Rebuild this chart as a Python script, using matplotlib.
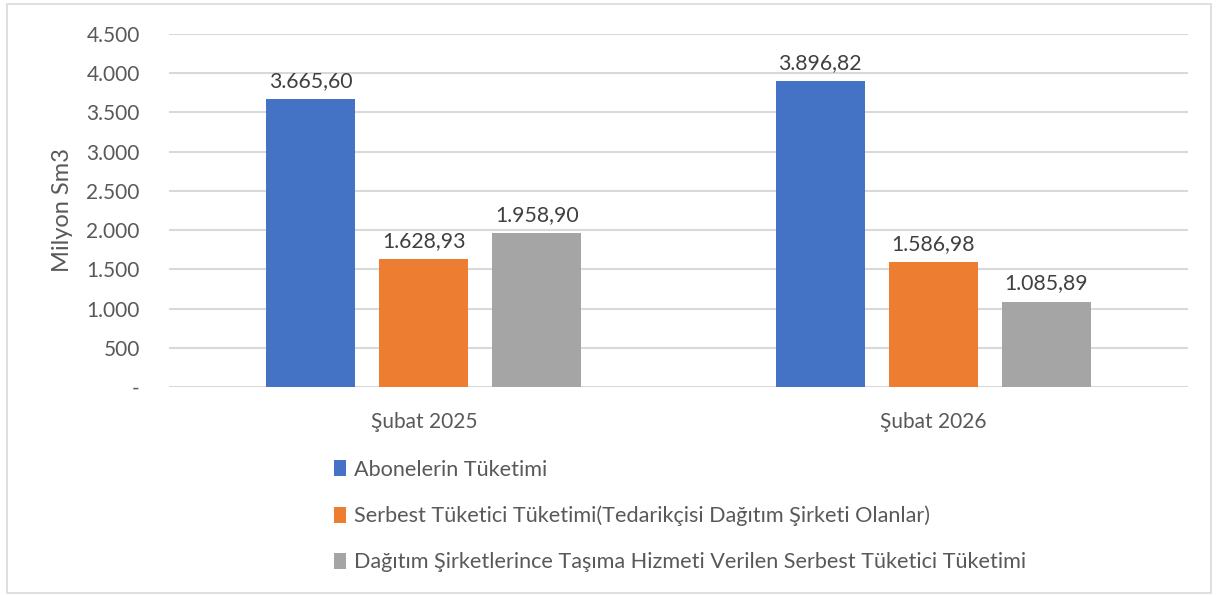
import numpy as np
import matplotlib.pyplot as plt
from matplotlib.patches import Rectangle
from matplotlib.ticker import FuncFormatter

plt.rcParams['font.family'] = ['Lato', 'DejaVu Sans']

categories = ['Şubat 2025', 'Şubat 2026']
series_names = [
    'Abonelerin Tüketimi',
    'Serbest Tüketici Tüketimi(Tedarikçisi Dağıtım Şirketi Olanlar)',
    'Dağıtım Şirketlerince Taşıma Hizmeti Verilen Serbest Tüketici Tüketimi',
]
abone = [3665.60, 3896.82]
serbest_tedarik = [1628.93, 1586.98]
serbest_tasima = [1958.90, 1085.89]
colors = ['#4472c4', '#ed7d31', '#a5a5a5']

text_color = '#595959'
grid_color = '#d9d9d9'


def tr_number(v, decimals=2):
    s = f"{v:,.{decimals}f}"
    return s.replace(',', 'X').replace('.', ',').replace('X', '.')


fig = plt.figure(figsize=(12.17, 5.95), dpi=100)
ax = fig.add_axes([0.1389, 0.3496, 0.8373, 0.5933])

# outer chart border
fig.patches.append(Rectangle((0.006, 0.003), 0.989, 0.99, transform=fig.transFigure,
                             fill=False, edgecolor=grid_color, linewidth=1.2))

x = np.arange(len(categories))
width = 0.175
step = 0.222
all_series = [abone, serbest_tedarik, serbest_tasima]
for i, (vals, name, c) in enumerate(zip(all_series, series_names, colors)):
    bars = ax.bar(x + (i - 1) * step, vals, width, color=c, label=name, zorder=3)
    for b, v in zip(bars, vals):
        ax.annotate(tr_number(v), (b.get_x() + b.get_width() / 2, v),
                    xytext=(0, 6), textcoords='offset points',
                    ha='center', va='bottom', fontsize=15.3, color='#404040')

ax.set_xlim(-0.5, 1.5)
ax.set_ylim(0, 4500)
ax.set_yticks(np.arange(0, 4501, 500))
ax.yaxis.set_major_formatter(FuncFormatter(lambda v, p: '-' if v == 0 else tr_number(v, 0)))
ax.set_xticks(x)
ax.set_xticklabels(categories)
ax.tick_params(axis='both', length=0, labelsize=15, labelcolor=text_color)
ax.tick_params(axis='y', pad=21)
ax.tick_params(axis='x', pad=18)
ax.grid(axis='y', color=grid_color, linewidth=1.5, zorder=0)
for s in ax.spines.values():
    s.set_visible(False)
ax.set_ylabel('Milyon Sm3', fontsize=17, color=text_color, labelpad=10)

fig.legend(loc='upper left', bbox_to_anchor=(0.267, 0.242), frameon=False,
           fontsize=15.6, labelcolor=text_color, handlelength=0.55, handleheight=0.75,
           handletextpad=0.4, labelspacing=1.2, borderaxespad=0)

fig.savefig('out.png', dpi=100, facecolor='white')
